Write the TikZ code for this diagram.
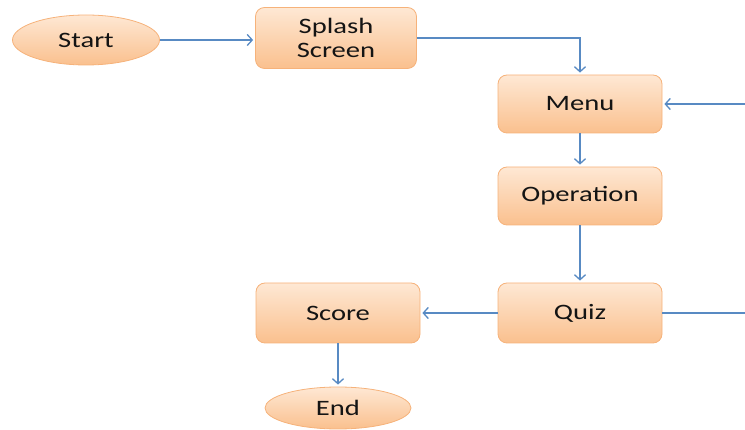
\documentclass[tikz,border=0pt]{standalone}
\usepackage{fontspec}
\setmainfont[FakeStretch=1.3]{Carlito}
\usetikzlibrary{shapes.geometric,arrows.meta}
\definecolor{linec}{RGB}{88,138,195}
\definecolor{boxborder}{RGB}{246,178,122}
\definecolor{boxtop}{RGB}{254,232,212}
\definecolor{boxbot}{RGB}{250,192,142}
\definecolor{txt}{RGB}{20,20,20}
\begin{document}
\begin{tikzpicture}[x=1pt,y=-1pt,
  box/.style={draw=boxborder, line width=0.8pt, rounded corners=9pt,
    top color=boxtop, bottom color=boxbot, minimum width=164pt,
    minimum height=59pt, inner sep=0pt, align=center, text=txt,
    font=\fontsize{22}{24}\selectfont},
  oval/.style={ellipse, draw=boxborder, line width=0.8pt,
    top color=boxtop, bottom color=boxbot, minimum width=147pt,
    minimum height=50pt, inner sep=0pt, text=txt,
    font=\fontsize{22}{24}\selectfont},
  wire/.style={draw=linec, line width=1.3pt},
  conn/.style={wire, -{Straight Barb[length=5pt,width=11pt,line width=1.3pt]}, shorten >=2pt}]
\useasboundingbox (0,0) rectangle (745,430);
\node[oval] (start) at (86,40) {Start};
\node[box, minimum width=161pt, minimum height=61pt] (splash) at (336,38) {Splash\\Screen};
\node[box, minimum height=58pt] (menu) at (580,104) {Menu};
\node[box, minimum height=58pt] (op) at (580,196) {Operation};
\node[box, minimum height=60pt] (quiz) at (580,313) {Quiz};
\node[box, minimum height=60pt] (score) at (338,313) {Score};
\node[oval, minimum width=146pt, minimum height=42pt] (end) at (338,408) {End};
\coordinate (menuin) at (745,104);
\coordinate (quizout) at (745,313);
\draw[conn] (start.east) -- (start.east -| splash.west);
\draw[conn] (splash.east) -| (menu.north);
\draw[conn] (menu) -- (op);
\draw[conn] (op) -- (quiz);
\draw[conn] (quiz) -- (score);
\draw[conn] (score) -- (end);
\draw[conn] (menuin) -- (menu.east);
\draw[wire] (quiz.east) -- (quizout);
\end{tikzpicture}
\end{document}
